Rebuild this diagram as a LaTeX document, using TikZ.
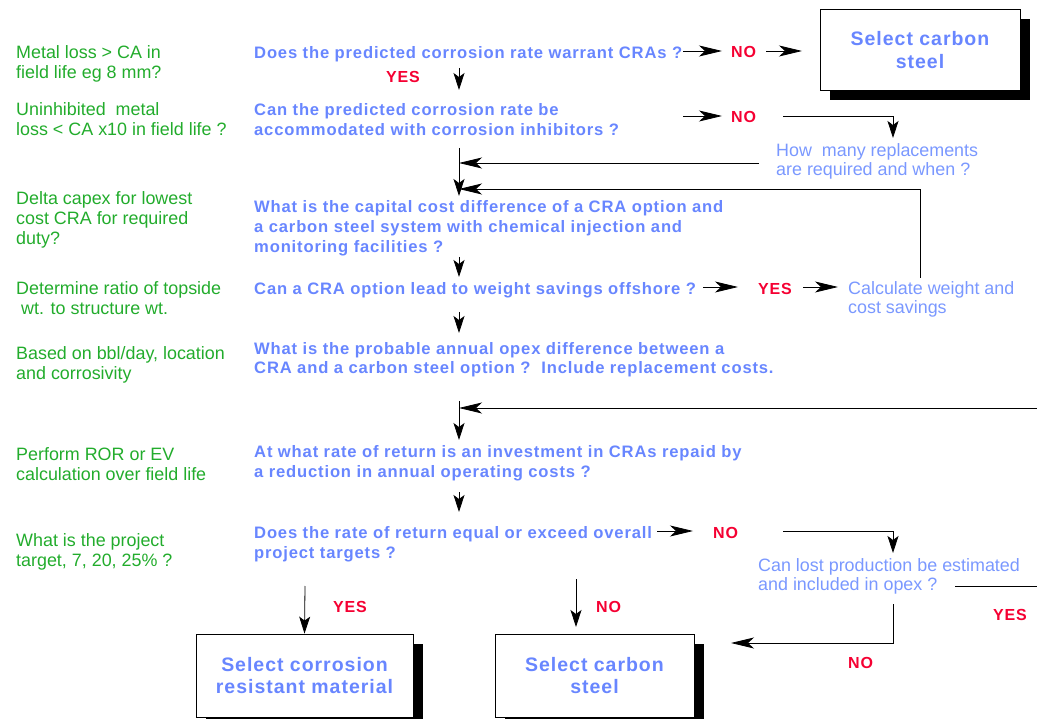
\documentclass[tikz,border=0pt]{standalone}
\usepackage{fontspec}
\setmainfont{Liberation Sans}
\newfontfamily\qf[LetterSpace=5]{Liberation Sans}
\usetikzlibrary{arrows.meta,shadows}
\definecolor{gr}{RGB}{34,172,44}
\definecolor{bl}{RGB}{104,134,255}
\definecolor{lb}{RGB}{122,152,255}
\definecolor{rd}{RGB}{245,0,50}
\tikzset{
  gtext/.style={anchor=base west, align=left, inner sep=0pt, text=gr, font=\fontsize{17.9}{20}\selectfont},
  qtext/.style={anchor=base west, align=left, inner sep=0pt, text=bl, font=\qf\bfseries\fontsize{16.6}{20}\selectfont},
  ltext/.style={anchor=base west, align=left, inner sep=0pt, text=lb, font=\fontsize{17.9}{19}\selectfont},
  rtext/.style={anchor=base west, inner sep=0pt, text=rd, font=\qf\bfseries\fontsize{16}{20}\selectfont},
  selbox/.style={draw=black, line width=0.8pt, fill=white, align=center, text=bl,
    font=\qf\bfseries\fontsize{19.5}{22.4}\selectfont,
    drop shadow={shadow xshift=10pt, shadow yshift=-10pt, fill=black, opacity=1}},
  hl/.style={line width=0.8pt, -{Stealth[length=23pt,width=11pt,inset=6pt]}},
  vl/.style={line width=0.8pt, -{Stealth[length=17pt,width=11pt,inset=4pt]}},
  ln/.style={line width=0.8pt}
}
\begin{document}
\begin{tikzpicture}[x=1pt,y=-1pt]
\useasboundingbox (0,0) rectangle (1037,719);
\clip (0,0) rectangle (1037,719);
% green notes (positions = baseline of last line)
\node[gtext] (g1) at (16,79) {Metal loss > CA in\\field life eg 8 mm?};
\node[gtext] (g2) at (16,136) {Uninhibited\ \ metal\\loss < CA x10 in field life ?};
\node[gtext] (g3) at (16,245) {Delta capex for lowest\\cost CRA for required\\duty?};
\node[gtext] (g4) at (16,315) {Determine ratio of topside\\\hspace*{0.28em}wt. to structure wt.};
\node[gtext] (g5) at (16,380) {Based on bbl/day, location\\and corrosivity};
\node[gtext] (g6) at (16,480) {Perform ROR or EV\\calculation over field life};
\node[gtext] (g7) at (16,566) {What is the project\\target, 7, 20, 25\% ?};
% questions
\node[qtext] (q1) at (254,59) {Does the predicted corrosion rate warrant CRAs ?};
\node[qtext] (q2) at (254,136) {Can the predicted corrosion rate be\\accommodated with corrosion inhibitors ?};
\node[qtext] (q3) at (254,253) {What is the capital cost difference of a CRA option and\\a carbon steel system with chemical injection and\\monitoring facilities ?};
\node[qtext] (q4) at (254,295) {Can a CRA option lead to weight savings offshore ?};
\node[qtext] (q5) at (254,374) {What is the probable annual opex difference between a\\CRA and a carbon steel option ?\ \ Include replacement costs.};
\node[qtext] (q6) at (254,477) {At what rate of return is an investment in CRAs repaid by\\a reduction in annual operating costs ?};
\node[qtext] (q7) at (254,558) {Does the rate of return equal or exceed overall\\project targets ?};
% light notes
\node[ltext] (l1) at (776,176) {How\ \ many replacements\\are required and when ?};
\node[ltext] (l2) at (848,314) {Calculate weight and\\cost savings};
\node[ltext] (l3) at (758,590) {Can lost production be estimated\\and included in opex ?};
% red labels
\node[rtext] (yes1) at (386,83) {YES};
\node[rtext] (no1) at (731,58) {NO};
\node[rtext] (no2) at (731,123) {NO};
\node[rtext] (yes2) at (758,295) {YES};
\node[rtext] (no3) at (713,538) {NO};
\node[rtext] (yes3) at (333,612) {YES};
\node[rtext] (no4) at (596,612) {NO};
\node[rtext] (yes4) at (993,620) {YES};
\node[rtext] (no5) at (848,668) {NO};
% boxes
\node[selbox, minimum width=200pt, minimum height=81pt] (b1) at (920,50) {Select carbon\\steel};
\node[selbox, minimum width=217pt, minimum height=83pt] (b2) at (304.5,675.5) {Select corrosion\\resistant material};
\node[selbox, minimum width=199pt, minimum height=83pt] (b3) at (594.5,675.5) {Select carbon\\steel};
% junction coordinates
\coordinate (a1s) at (683,51); \coordinate (a1e) at (722,51);
\coordinate (a2s) at (766,51); \coordinate (a2e) at (802,51);
\coordinate (a3s) at (459,68); \coordinate (a3e) at (459,90);
\coordinate (a4s) at (683,116); \coordinate (a4e) at (722,116);
\coordinate (n2s) at (783,116); \coordinate (n2c) at (893,116); \coordinate (n2e) at (893,138);
\coordinate (r1s) at (759,163); \coordinate (r1e) at (459,163);
\coordinate (v1s) at (459,148); \coordinate (v1e) at (459,196);
\coordinate (lps) at (920,278); \coordinate (lpc) at (920,189); \coordinate (lpe) at (459,189);
\coordinate (a6s) at (459,257); \coordinate (a6e) at (459,277);
\coordinate (a7s) at (703,287); \coordinate (a7e) at (738,287);
\coordinate (a8s) at (803,287); \coordinate (a8e) at (838,287);
\coordinate (a9s) at (459,312); \coordinate (a9e) at (459,333);
\coordinate (rts) at (1037,408); \coordinate (rte) at (459,408);
\coordinate (v2s) at (459,401); \coordinate (v2e) at (459,440);
\coordinate (a11s) at (459,492); \coordinate (a11e) at (459,512);
\coordinate (a12s) at (657,531); \coordinate (a12e) at (693,531);
\coordinate (n3s) at (783,531); \coordinate (n3c) at (893,531); \coordinate (n3e) at (893,553);
\coordinate (ys) at (955,586); \coordinate (ye) at (1037,586);
\coordinate (ns) at (893,604); \coordinate (nc) at (893,643); \coordinate (ne) at (731,643);
\coordinate (a13s) at (305,586);
\coordinate (a14s) at (576,579); \coordinate (a14e) at (576,627);
% connectors
\draw[hl] (a1s) -- (a1e);
\draw[hl] (a2s) -- (a2e);
\draw[vl] (a3s) -- (a3e);
\draw[hl] (a4s) -- (a4e);
\draw[vl] (n2s) -- (n2c) -- (n2e);
\draw[hl] (r1s) -- (r1e);
\draw[vl] (v1s) -- (v1e);
\draw[hl] (lps) -- (lpc) -- (lpe);
\draw[vl] (a6s) -- (a6e);
\draw[hl] (a7s) -- (a7e);
\draw[hl] (a8s) -- (a8e);
\draw[vl] (a9s) -- (a9e);
\draw[hl] (rts) -- (rte);
\draw[vl] (v2s) -- (v2e);
\draw[vl] (a11s) -- (a11e);
\draw[hl] (a12s) -- (a12e);
\draw[vl] (n3s) -- (n3c) -- (n3e);
\draw[ln] (ys) -- (ye);
\draw[hl] (ns) -- (nc) -- (ne);
\draw[vl] (a13s) -- (b2.north);
\draw[vl] (a14s) -- (a14e);
\end{tikzpicture}
\end{document}
